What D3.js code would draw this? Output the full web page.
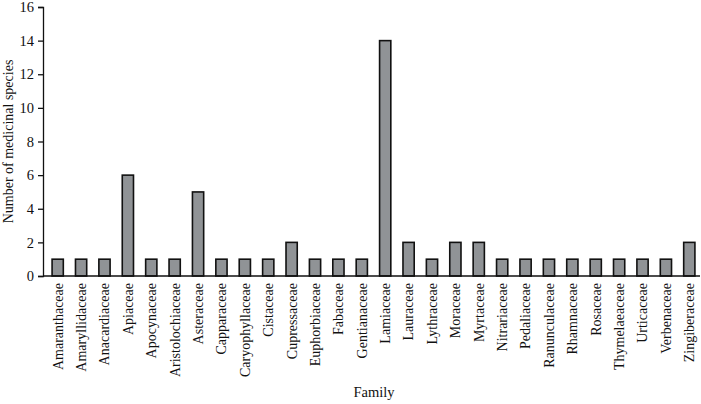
<!DOCTYPE html>
<html><head><meta charset="utf-8">
<script src="https://cdn.jsdelivr.net/npm/d3@7"></script>
<style>body{margin:0;background:#fff}svg{display:block}
text{font-family:'Liberation Serif','Times New Roman',serif;fill:#111}</style>
</head><body>
<svg id="c" width="701" height="404"></svg>
<script>
const families = ["Amaranthaceae","Amaryllidaceae","Anacardiaceae","Apiaceae","Apocynaceae","Aristolochiaceae","Asteraceae","Capparaceae","Caryophyllaceae","Cistaceae","Cupressaceae","Euphorbiaceae","Fabaceae","Gentianaceae","Lamiaceae","Lauraceae","Lythraceae","Moraceae","Myrtaceae","Nitrariaceae","Pedaliaceae","Ranunculaceae","Rhamnaceae","Rosaceae","Thymelaeaceae","Urticaceae","Verbenaceae","Zingiberaceae"];
const counts = [1,1,1,6,1,1,5,1,1,1,2,1,1,1,14,2,1,2,2,1,1,1,1,1,1,1,1,2];
const yTicks = [0,2,4,6,8,10,12,14,16];

const svg = d3.select("#c");
const font = "'Liberation Serif','Times New Roman',serif";
const x0 = 43, x1 = 700, yTop = 7, yBot = 276;

const x = d3.scaleBand().domain(families).range([46, 701]).paddingInner(0.52).paddingOuter(0.26);
const y = d3.scaleLinear().domain([0, 16]).range([yBot, yTop]);

// bars
svg.append("g").selectAll("rect").data(families).join("rect")
  .attr("x", d => x(d))
  .attr("y", (d,i) => y(counts[i]))
  .attr("width", x.bandwidth())
  .attr("height", (d,i) => y(0) - y(counts[i]))
  .attr("fill", "#909396")
  .attr("stroke", "#111")
  .attr("stroke-width", 1.6);

// y axis
const ya = svg.append("g").attr("transform", `translate(${x0},0)`)
  .call(d3.axisLeft(y).tickValues(yTicks).tickSize(5).tickPadding(4));
ya.attr("font-family", null).attr("font-size", null);
ya.select(".domain").attr("stroke", "#111").attr("stroke-width", 1.3);
ya.selectAll(".tick line").attr("stroke", "#111").attr("stroke-width", 1.3);
ya.selectAll("text").style("font-family", font).style("font-size", "14.5px").attr("fill", "#111");

// x axis
const xa = svg.append("g").attr("transform", `translate(0,${yBot})`)
  .call(d3.axisBottom(x).tickSize(0).tickPadding(0));
xa.attr("font-family", null).attr("font-size", null);
xa.select(".domain").remove();
svg.append("line").attr("x1", x0).attr("x2", x1).attr("y1", yBot).attr("y2", yBot)
  .attr("stroke", "#111").attr("stroke-width", 1.3);
xa.selectAll("text")
  .style("font-family", font).style("font-size", "14px").attr("fill", "#111")
  .attr("transform", "rotate(-90)")
  .attr("text-anchor", "end")
  .attr("x", -7).attr("y", 0).attr("dy", "0.35em");

// titles
svg.append("text").attr("x", 374).attr("y", 397).attr("text-anchor", "middle")
  .style("font-family", font).style("font-size", "14.5px").text("Family");
svg.append("text").attr("transform", `translate(13,${(yTop+yBot)/2}) rotate(-90)`)
  .attr("text-anchor", "middle")
  .style("font-family", font).style("font-size", "14px").text("Number of medicinal species");
</script>
</body></html>
